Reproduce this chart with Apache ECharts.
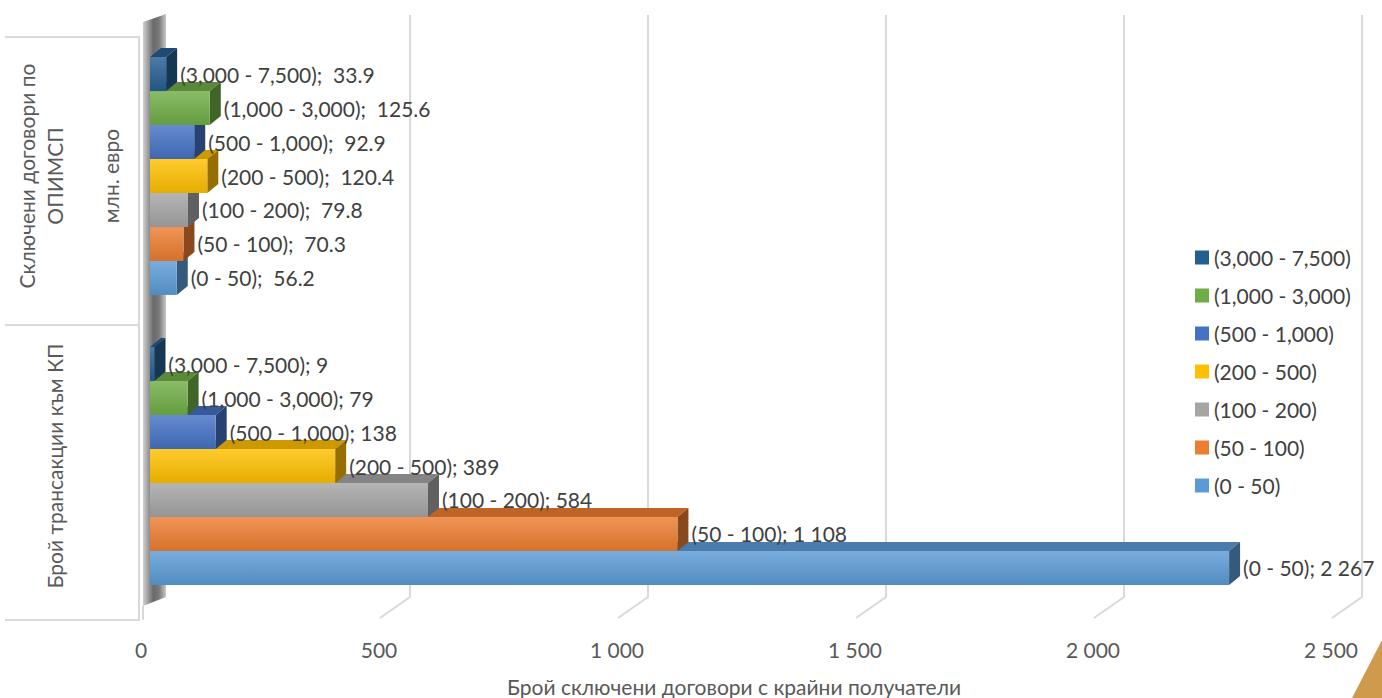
<!DOCTYPE html>
<html><head><meta charset="utf-8">
<script src="https://cdn.jsdelivr.net/npm/echarts@6/dist/echarts.min.js"></script>
<style>html,body{margin:0;padding:0;background:#fff}#c{width:1382px;height:698px}</style>
</head><body><div id="c"></div>
<script>
var categories = ['Брой трансакции към КП', 'Сключени договори по\nОПИМСП\n\nмлн. евро'];
var seriesNames = ['(0 - 50)', '(50 - 100)', '(100 - 200)', '(200 - 500)', '(500 - 1,000)', '(1,000 - 3,000)', '(3,000 - 7,500)'];
var transactions = [2267, 1108, 584, 389, 138, 79, 9];
var contractsMlnEur = [56.2, 70.3, 79.8, 120.4, 92.9, 125.6, 33.9];
var xTicks = [0, 500, 1000, 1500, 2000, 2500];
var xAxisTitle = 'Брой сключени договори с крайни получатели';
var colors = ['#5B9BD5', '#ED7D31', '#A5A5A5', '#FFC000', '#4472C4', '#70AD47', '#255E91'];

var FONT = 'Lato, "Noto Sans", sans-serif';
var FS = 21;
function mix(hex, t) {
  var n = parseInt(hex.slice(1), 16), r = n >> 16 & 255, g = n >> 8 & 255, b = n & 255;
  function f(c) { return Math.round(t > 0 ? c + (255 - c) * t : c * (1 + t)); }
  return 'rgb(' + f(r) + ',' + f(g) + ',' + f(b) + ')';
}
function fmtInt(v) { return String(Math.round(v)).replace(/\B(?=(\d{3})+(?!\d))/g, ' '); }

function makeRender(si) {
  return function (params, api) {
    var val = api.value(0), cat = api.value(1);
    var p0 = api.coord([0, cat]), p1 = api.coord([val, cat]);
    var band = api.size([0, 1])[1];
    var used = band * 0.82, h = used / seriesNames.length;
    var yb = p0[1] + used / 2 - si * h, yt = yb - h;
    var x0 = p0[0], x1 = p1[0];
    var dx = 11, dy = 9;
    var c = colors[si];
    var label = cat === 0 ? seriesNames[si] + '; ' + fmtInt(val) : seriesNames[si] + ';  ' + val.toFixed(1);
    return {
      type: 'group', children: [
        { type: 'polygon', shape: { points: [[x0, yt], [x1, yt], [x1 + dx, yt - dy], [x0 + dx, yt - dy]] }, style: { fill: mix(c, -0.2) } },
        { type: 'polygon', shape: { points: [[x1, yt], [x1 + dx, yt - dy], [x1 + dx, yb - dy], [x1, yb]] }, style: { fill: mix(c, -0.42) } },
        { type: 'rect', shape: { x: x0, y: yt, width: x1 - x0, height: h }, style: { fill: new echarts.graphic.LinearGradient(0, 0, 0, 1, [{ offset: 0, color: mix(c, 0.18) }, { offset: 1, color: mix(c, -0.1) }]) } },
        { type: 'text', z2: 100, style: { text: label, x: x1 + dx + 3, y: yt + h / 2, verticalAlign: 'middle', align: 'left', fill: '#404040', font: FS + 'px ' + FONT } }
      ]
    };
  };
}

var series = [{
  type: 'custom', name: 'gridlines', silent: true, z: 1, clip: false,
  data: xTicks.map(function (v) { return [v, 0]; }),
  renderItem: function (params, api) {
    if (api.value(0) === 0) return null;
    var x = api.coord([api.value(0), 0])[0] + 22;
    var cs = params.coordSys;
    var yTop = cs.y - 16, yBot = cs.y + cs.height - 14;
    return { type: 'polyline', shape: { points: [[x, yTop], [x, yBot], [x - 30, yBot + 21]] }, style: { stroke: '#d9d9d9', lineWidth: 2, fill: null } };
  }
}];
seriesNames.forEach(function (name, si) {
  series.push({
    type: 'custom', name: name, clip: false, z: 3,
    itemStyle: { color: colors[si] },
    data: [[transactions[si], 0], [contractsMlnEur[si], 1]],
    renderItem: makeRender(si)
  });
});

var chart = echarts.init(document.getElementById('c'), null, { renderer: 'svg' });
chart.setOption({
  animation: false,
  backgroundColor: '#fff',
  textStyle: { fontFamily: FONT },
  grid: { left: 150, right: 42, top: 31, bottom: 87, containLabel: false, outerBoundsMode: 'none' },
  legend: {
    data: seriesNames.slice().reverse(), orient: 'vertical', left: 1190, top: 242,
    icon: 'rect', itemWidth: 14, itemHeight: 14, itemGap: 17,
    textStyle: { fontSize: FS, color: '#404040', fontFamily: FONT }
  },
  xAxis: {
    type: 'value', min: xTicks[0], max: xTicks[xTicks.length - 1], interval: 500,
    axisLine: { show: false }, axisTick: { show: false }, splitLine: { show: false },
    axisLabel: { formatter: fmtInt, fontSize: FS, color: '#595959', margin: 28, padding: [0, 18, 0, 0] },
    name: xAxisTitle, nameLocation: 'middle', nameGap: 65,
    nameTextStyle: { fontSize: FS, color: '#595959', padding: [0, 22, 0, 0] }
  },
  yAxis: {
    type: 'category', data: categories,
    axisLine: { show: false }, axisTick: { show: false }, splitLine: { show: false },
    axisLabel: {
      rotate: 90, margin: 26, interval: 0,
      formatter: function (v, i) { return i === 1 ? '{t|' + v + '}' : '{b|' + v + '}'; },
      rich: {
        t: { fontSize: FS, lineHeight: 28, color: '#595959', fontFamily: FONT },
        b: { fontSize: FS, lineHeight: 28, color: '#595959', fontFamily: FONT, padding: [0, 0, 111, 0] }
      }
    }
  },
  graphic: [
    { type: 'polygon', z: 0, silent: true, shape: { points: [[143, 22], [166, 14], [166, 597], [143, 606]] },
      style: { fill: new echarts.graphic.LinearGradient(0, 0, 1, 0, [{ offset: 0, color: '#d0d0d0' }, { offset: 0.45, color: '#6a6a6a' }, { offset: 0.7, color: '#7a7a7a' }, { offset: 1, color: '#c8c8c8' }]) } },
    { type: 'polyline', z: 0, silent: true, shape: { points: [[5, 37], [139, 37], [139, 620], [5, 620]] }, style: { stroke: '#d9d9d9', lineWidth: 2, fill: null } },
    { type: 'line', z: 0, silent: true, shape: { x1: 5, y1: 325, x2: 139, y2: 325 }, style: { stroke: '#d9d9d9', lineWidth: 2 } },
    { type: 'line', z: 0, silent: true, shape: { x1: 143, y1: 606, x2: 143, y2: 620 }, style: { stroke: '#d9d9d9', lineWidth: 2 } },
    { type: 'polygon', z: 0, silent: true, shape: { points: [[1382, 640], [1382, 698], [1352, 698]] }, style: { fill: '#D09A4C' } }
  ],
  series: series
});
</script>
</body></html>
